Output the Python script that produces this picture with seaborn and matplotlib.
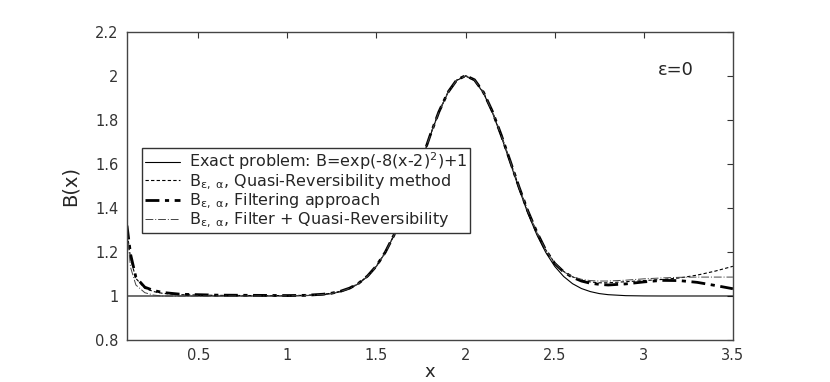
import numpy as np
import pandas as pd
import matplotlib
matplotlib.use("Agg")
import matplotlib.pyplot as plt
import seaborn as sns

# valores
x = [0.1, 0.12, 0.15, 0.2, 0.25, 0.3, 0.4, 0.6, 0.8, 1.0, 1.1, 1.2, 1.25, 1.3, 1.35,
     1.4, 1.45, 1.5, 1.55, 1.6, 1.65, 1.7, 1.75, 1.8, 1.85, 1.9, 1.95, 2.0, 2.05,
     2.1, 2.15, 2.2, 2.25, 2.3, 2.35, 2.4, 2.45, 2.5, 2.55, 2.6, 2.65, 2.7, 2.75,
     2.8, 2.9, 3.0, 3.1, 3.2, 3.3, 3.4, 3.5]

b_exacta = [1.0, 1.0, 1.0, 1.0, 1.0, 1.0, 1.0, 1.0, 1.0, 1.0003, 1.0015, 1.006, 1.011, 1.020, 1.034,
            1.056, 1.089, 1.135, 1.198, 1.278, 1.375, 1.487, 1.607, 1.726, 1.835, 1.923, 1.980, 2.0, 1.980,
            1.923, 1.835, 1.726, 1.607, 1.487, 1.375, 1.278, 1.198, 1.135, 1.089, 1.056, 1.034, 1.020, 1.011,
            1.006, 1.0015, 1.0003, 1.0, 1.0, 1.0, 1.0, 1.0]

b_qr = [1.30, 1.17, 1.08, 1.035, 1.02, 1.012, 1.006, 1.003, 1.002, 1.002, 1.003, 1.008, 1.013, 1.022, 1.036,
        1.058, 1.091, 1.137, 1.200, 1.280, 1.377, 1.489, 1.609, 1.728, 1.837, 1.925, 1.982, 2.002, 1.983,
        1.927, 1.840, 1.732, 1.614, 1.495, 1.385, 1.290, 1.210, 1.150, 1.112, 1.087, 1.072, 1.064, 1.060,
        1.060, 1.065, 1.070, 1.075, 1.082, 1.095, 1.113, 1.135]

b_filtro = [1.32, 1.19, 1.085, 1.04, 1.025, 1.016, 1.008, 1.004, 1.003, 1.002, 1.003, 1.008, 1.013, 1.022, 1.036,
            1.058, 1.091, 1.137, 1.200, 1.280, 1.377, 1.489, 1.609, 1.728, 1.837, 1.925, 1.982, 2.002, 1.983,
            1.927, 1.840, 1.732, 1.614, 1.495, 1.385, 1.290, 1.208, 1.148, 1.110, 1.085, 1.068, 1.058, 1.053,
            1.050, 1.055, 1.064, 1.071, 1.070, 1.062, 1.048, 1.033]

b_filtro_qr = [1.30, 1.13, 1.05, 1.015, 1.004, 1.0, 1.0, 1.0, 1.0, 1.0005, 1.002, 1.007, 1.012, 1.021, 1.035,
               1.057, 1.090, 1.136, 1.199, 1.279, 1.376, 1.488, 1.608, 1.727, 1.836, 1.924, 1.981, 2.001, 1.982,
               1.926, 1.839, 1.731, 1.613, 1.494, 1.384, 1.289, 1.208, 1.150, 1.110, 1.088, 1.076, 1.070, 1.068,
               1.068, 1.072, 1.078, 1.082, 1.085, 1.086, 1.086, 1.086]

etiquetas = [
    r"Exact problem: B=exp(-8(x-2)$^{2}$)+1",
    r"B$_{\mathrm{\epsilon,\ \alpha}}$, Quasi-Reversibility method",
    r"B$_{\mathrm{\epsilon,\ \alpha}}$, Filtering approach",
    r"B$_{\mathrm{\epsilon,\ \alpha}}$, Filter + Quasi-Reversibility",
]

sns.set_theme(style="white")
plt.rcParams['font.family'] = ['DejaVu Sans']
plt.rcParams['mathtext.fontset'] = 'dejavusans'

fig = plt.figure(figsize=(8.3, 3.82), dpi=100)
ax = fig.add_axes([0.153, 0.110, 0.730, 0.806])

sns.lineplot(x=x, y=b_exacta, ax=ax, color='black', lw=0.8, label=etiquetas[0])
sns.lineplot(x=x, y=b_qr, ax=ax, color='black', lw=0.8, linestyle=(0, (3, 2)), label=etiquetas[1])
sns.lineplot(x=x, y=b_filtro, ax=ax, color='black', lw=2.0, linestyle=(0, (5, 2, 1.5, 2)), label=etiquetas[2])
sns.lineplot(x=x, y=b_filtro_qr, ax=ax, color='#444444', lw=0.7, linestyle=(0, (8, 2, 1, 2)), label=etiquetas[3])

ax.set_xlim(0.1, 3.5)
ax.set_ylim(0.8, 2.2)
ax.set_xticks([0.5, 1, 1.5, 2, 2.5, 3, 3.5])
ax.set_xticklabels(['0.5', '1', '1.5', '2', '2.5', '3', '3.5'])
ax.set_yticks([0.8, 1, 1.2, 1.4, 1.6, 1.8, 2, 2.2])
ax.set_yticklabels(['0.8', '1', '1.2', '1.4', '1.6', '1.8', '2', '2.2'])
ax.tick_params(direction='in', length=4, width=0.8, top=True, right=True,
               labelsize=10.5, colors='#333333', pad=6)

for s in ax.spines.values():
    s.set_color('#444444')
    s.set_linewidth(1.0)

ax.set_xlabel('x', fontsize=13)
ax.set_ylabel('B(x)', fontsize=14)
ax.xaxis.set_label_coords(0.5, -0.075)
ax.yaxis.set_label_coords(-0.078, 0.5)

ax.text(0.906, 0.877, "ε=0", transform=ax.transAxes, ha='center', va='center', fontsize=13)

leg = ax.legend(loc='upper left', bbox_to_anchor=(0.025, 0.623), fontsize=11.5, frameon=True,
                fancybox=False, framealpha=1, edgecolor='#333333', handlelength=2.2,
                borderpad=0.15, labelspacing=0.0, handletextpad=0.6, borderaxespad=0)
leg.get_frame().set_linewidth(1.0)

fig.savefig('out.png', dpi=100)
